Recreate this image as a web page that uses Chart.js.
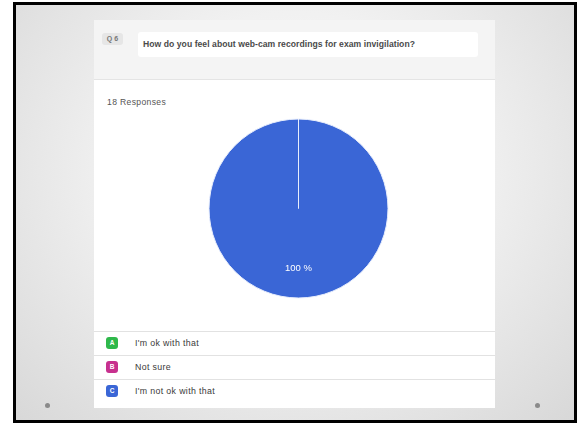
<!DOCTYPE html>
<html>
<head>
<meta charset="utf-8">
<script src="https://cdn.jsdelivr.net/npm/chart.js@4"></script>
<style>
  html, body { margin: 0; padding: 0; background: #fff; }
  body { width: 578px; height: 424px; position: relative; overflow: hidden; font-family: 'Liberation Sans', Arial, sans-serif; }
  #slide {
    position: absolute; left: 13px; top: 2px; width: 558px; height: 415px;
    border: 3px solid #000;
    background: radial-gradient(ellipse at 50% 40%, #fbfbfb 0%, #f1f1f1 45%, #d8d8d8 100%);
  }
  .dot { position: absolute; width: 5px; height: 5px; border-radius: 50%; background: #8a8a8a; top: 403px; }
  #card { position: absolute; left: 94px; top: 20px; width: 401px; height: 388px; background: #fff; }
  #head { position: absolute; left: 0; top: 0; width: 401px; height: 59px; background: #f4f4f4; border-bottom: 1px solid #e4e4e4; }
  #qnum { position: absolute; left: 8px; top: 13px; width: 21px; height: 12px; border-radius: 3px; background: #e6e6e6; color: #777; font-size: 7px; font-weight: bold; line-height: 12px; text-align: center; }
  #qbox { position: absolute; left: 44px; top: 12px; width: 340px; height: 25px; border-radius: 3px; background: #fff; }
  #qtext { position: absolute; left: 5px; top: 0; line-height: 25px; font-size: 8.6px; font-weight: bold; color: #4a4a4a; white-space: nowrap; letter-spacing: 0.05px; }
  #resp { position: absolute; left: 13px; top: 77px; font-size: 8.6px; color: #555; letter-spacing: 0.35px; }
  #legend { position: absolute; left: 0; top: 311px; width: 401px; }
  .row { height: 23px; border-top: 1px solid #e2e2e2; position: relative; }
  .badge { position: absolute; left: 12px; top: 5px; width: 12px; height: 12px; border-radius: 3px; color: #fff; font-size: 6.5px; font-weight: bold; text-align: center; line-height: 12px; }
  .lab { position: absolute; left: 41px; top: 0; line-height: 22px; font-size: 8.8px; color: #3a3a3a; letter-spacing: 0.35px; }
  #chartwrap { position: absolute; left: 208px; top: 118px; width: 181px; height: 181px; }
</style>
</head>
<body>
<div id="slide"></div>
<div class="dot" style="left:45px"></div>
<div class="dot" style="left:535px"></div>
<div id="card">
  <div id="head">
    <div id="qnum">Q 6</div>
    <div id="qbox"><div id="qtext"></div></div>
  </div>
  <div id="resp"></div>
  <div id="legend"></div>
</div>
<div id="chartwrap"><canvas id="pie"></canvas></div>
<script>
const question = 'How do you feel about web-cam recordings for exam invigilation?'
const responses = 18
const letters = ['A', 'B', 'C']
const answers = ["I'm ok with that", 'Not sure', "I'm not ok with that"]
const counts = [0, 0, 18]
const colors = ['#2fb84b', '#c7308e', '#3a66d6']

document.getElementById('qtext').textContent = question
document.getElementById('resp').textContent = responses + ' Responses'

const legend = document.getElementById('legend')
for (let i = 0; i < answers.length; i++) {
  const row = document.createElement('div')
  row.className = 'row'
  const b = document.createElement('div')
  b.className = 'badge'
  b.style.background = colors[i]
  b.textContent = letters[i]
  const l = document.createElement('div')
  l.className = 'lab'
  l.textContent = answers[i]
  row.appendChild(b)
  row.appendChild(l)
  legend.appendChild(row)
}

// percent labels inside the slices
const percentLabels = {
  id: 'percentLabels',
  afterDatasetsDraw(chart) {
    const ctx = chart.ctx
    const meta = chart.getDatasetMeta(0)
    const total = counts.reduce((a, b) => a + b, 0)
    ctx.save()
    ctx.fillStyle = '#fff'
    ctx.font = '9.5px "Liberation Sans", Arial, sans-serif'
    ctx.textAlign = 'center'
    ctx.textBaseline = 'middle'
    meta.data.forEach(function (arc, i) {
      if (!counts[i]) return
      const p = arc.getProps(['x', 'y', 'startAngle', 'endAngle', 'outerRadius'], true)
      const mid = (p.startAngle + p.endAngle) / 2
      const r = p.outerRadius * 0.67
      const pct = Math.round(counts[i] / total * 100)
      ctx.fillText(pct + ' %', p.x + Math.cos(mid) * r, p.y + Math.sin(mid) * r)
    })
    ctx.restore()
  }
}

new Chart(document.getElementById('pie'), {
  type: 'pie',
  data: {
    labels: answers,
    datasets: [{
      data: counts,
      backgroundColor: colors,
      borderColor: '#e8eefc',
      borderWidth: 1
    }]
  },
  options: {
    responsive: true,
    maintainAspectRatio: false,
    animation: false,
    radius: 89.5,
    plugins: {
      legend: { display: false },
      tooltip: { enabled: false }
    }
  },
  plugins: [percentLabels]
})
</script>
</body>
</html>
